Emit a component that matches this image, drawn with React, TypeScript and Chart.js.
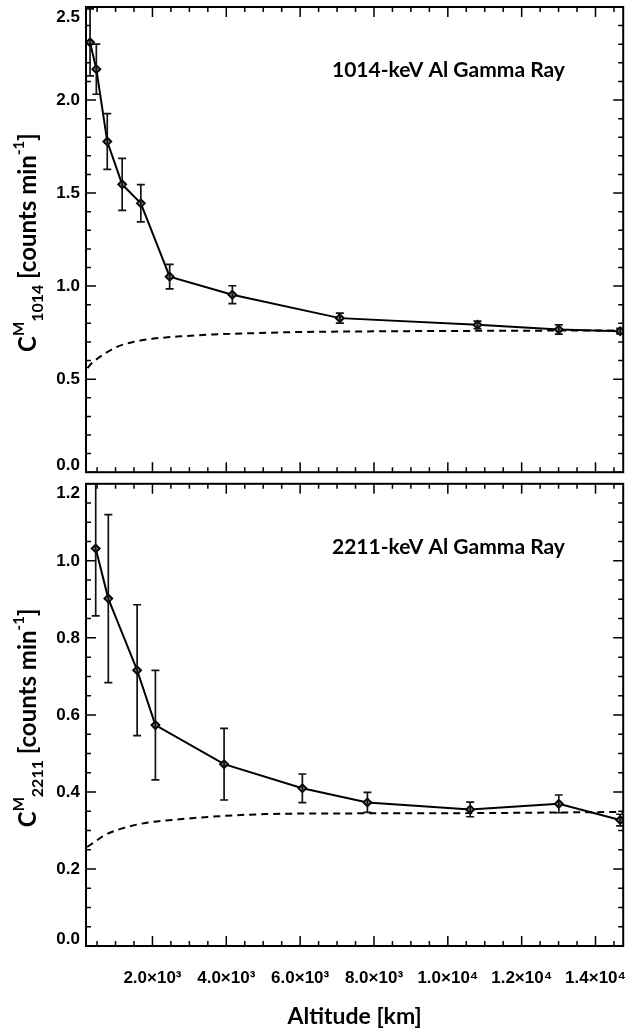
import React, { useEffect, useRef } from "react";
import { Chart, registerables } from "chart.js";
Chart.register(...registerables);

// ---- 1014 keV panel ----
const altitude1014 = [310, 480, 776, 1180, 1685, 2466, 4164, 7075, 10803, 13005, 14668];
const counts1014 = [2.31, 2.166, 1.777, 1.547, 1.445, 1.051, 0.954, 0.828, 0.792, 0.767, 0.758];
const error1014 = [0.18, 0.135, 0.15, 0.14, 0.1, 0.066, 0.048, 0.027, 0.02, 0.025, 0.015];
const bgAltitude1014 = [237, 380, 670, 1030, 1480, 2000, 2750, 3650, 4550, 5900, 8000, 11400, 14750];
const bg1014 = [0.56, 0.59, 0.632, 0.673, 0.7, 0.717, 0.73, 0.74, 0.746, 0.753, 0.757, 0.76, 0.762];

// ---- 2211 keV panel ----
const altitude2211 = [463, 804, 1585, 2080, 3940, 6060, 7822, 10606, 13005, 14668];
const counts2211 = [1.032, 0.902, 0.716, 0.5735, 0.472, 0.4095, 0.3727, 0.3546, 0.369, 0.327];
const error2211 = [0.175, 0.218, 0.17, 0.142, 0.093, 0.037, 0.026, 0.019, 0.023, 0.015];
const bgAltitude2211 = [230, 445, 714, 1208, 1838, 2736, 3814, 5073, 6690, 10606, 14750];
const bg2211 = [0.257, 0.271, 0.288, 0.306, 0.32, 0.329, 0.337, 0.3425, 0.344, 0.345, 0.348];

const xMin = 200;
const xMax = 14750;
const xTickValues = [2000, 4000, 6000, 8000, 10000, 12000, 14000];
const xMinorStep = 500;

const titles = ["1014-keV Al Gamma Ray", "2211-keV Al Gamma Ray"];
const subs = ["1014", "2211"];
const xTitle = "Altitude [km]";

const SUP: Record<number, string> = { 3: "\u00b3", 4: "\u2074" };
function fmtX(v: number): string {
  if (v <= 0) return "";
  const e = Math.floor(Math.log10(v) + 1e-9);
  const m = v / Math.pow(10, e);
  return m.toFixed(1) + "\u00d710" + (SUP[e] || "");
}

const TICK_FONT = '"Liberation Sans", Arial, sans-serif';
const TITLE_FONT = 'Lato, "Open Sans", sans-serif';

type Spec = {
  alt: number[];
  val: number[];
  err: number[];
  bgAlt: number[];
  bg: number[];
  yMin: number;
  yMax: number;
  yMajor: number;
  yMinor: number;
  title: string;
  sub: string;
  showX: boolean;
  height: number;
  padTop: number;
  padBottom: number;
};

function framePlugin(spec: Spec) {
  return {
    id: "frame",
    afterDatasetsDraw(chart: any) {
      const { ctx, chartArea: a, scales } = chart;
      const x = scales.x;
      const y = scales.y;
      ctx.save();
      ctx.beginPath();
      ctx.rect(a.left, a.top, a.right - a.left, a.bottom - a.top);
      ctx.clip();
      ctx.strokeStyle = "#111";
      ctx.lineWidth = 1.7;
      for (let i = 0; i < spec.alt.length; i++) {
        const px = x.getPixelForValue(spec.alt[i]);
        const p1 = y.getPixelForValue(spec.val[i] + spec.err[i]);
        const p2 = y.getPixelForValue(spec.val[i] - spec.err[i]);
        ctx.beginPath();
        ctx.moveTo(px, p1);
        ctx.lineTo(px, p2);
        ctx.moveTo(px - 4, p1);
        ctx.lineTo(px + 4, p1);
        ctx.moveTo(px - 4, p2);
        ctx.lineTo(px + 4, p2);
        ctx.stroke();
      }
      ctx.restore();
    },
    afterDraw(chart: any) {
      const { ctx, chartArea: a, scales } = chart;
      const x = scales.x;
      const y = scales.y;
      ctx.save();
      ctx.strokeStyle = "#000";
      ctx.lineWidth = 2;
      ctx.strokeRect(a.left, a.top, a.right - a.left, a.bottom - a.top);
      ctx.lineWidth = 1.5;
      // y ticks
      const n = Math.round((spec.yMax - spec.yMin) / spec.yMinor);
      for (let i = 0; i <= n; i++) {
        const v = spec.yMin + i * spec.yMinor;
        const r = v / spec.yMajor;
        const major = Math.abs(r - Math.round(r)) < 1e-6;
        const len = major ? 10 : 5;
        const py = y.getPixelForValue(v);
        ctx.beginPath();
        ctx.moveTo(a.left, py);
        ctx.lineTo(a.left + len, py);
        ctx.moveTo(a.right, py);
        ctx.lineTo(a.right - len, py);
        ctx.stroke();
      }
      // x ticks
      for (let v = xMinorStep; v <= xMax; v += xMinorStep) {
        if (v < xMin) continue;
        const major = xTickValues.includes(v);
        const len = major ? 10 : 5;
        const px = x.getPixelForValue(v);
        ctx.beginPath();
        ctx.moveTo(px, a.bottom);
        ctx.lineTo(px, a.bottom - len);
        ctx.moveTo(px, a.top);
        ctx.lineTo(px, a.top + len);
        ctx.stroke();
      }
      // y labels
      ctx.fillStyle = "#000";
      ctx.font = `bold 17px ${TICK_FONT}`;
      ctx.textAlign = "right";
      ctx.textBaseline = "middle";
      const m = Math.round((spec.yMax - spec.yMin) / spec.yMajor);
      for (let i = 0; i <= m; i++) {
        const v = spec.yMin + i * spec.yMajor;
        let py = y.getPixelForValue(v);
        if (i === 0) py -= 7;
        if (i === m) py += 10;
        ctx.fillText(v.toFixed(1), 80, py);
      }
      // annotation
      ctx.font = `bold 21px ${TITLE_FONT}`;
      ctx.textAlign = "left";
      ctx.fillText(spec.title, 332, a.top + 63);
      // y title (rotated with sub/superscripts)
      const pieces = [
        { t: "C", s: 24, dy: 0 },
        { t: "M", s: 15, dy: -12 },
        { t: spec.sub, s: 16, dy: 7 },
        { t: " [counts min", s: 24, dy: 0 },
        { t: "-1", s: 15, dy: -12 },
        { t: "]", s: 24, dy: 0 },
      ];
      let total = 0;
      for (const p of pieces) {
        ctx.font = `bold ${p.s}px ${TITLE_FONT}`;
        total += ctx.measureText(p.t).width;
      }
      const cy = (a.top + a.bottom) / 2 + 3;
      ctx.translate(36, cy);
      ctx.rotate(-Math.PI / 2);
      ctx.textAlign = "left";
      ctx.textBaseline = "alphabetic";
      let cx = -total / 2;
      for (const p of pieces) {
        ctx.font = `bold ${p.s}px ${TITLE_FONT}`;
        ctx.fillText(p.t, cx, p.dy);
        cx += ctx.measureText(p.t).width;
      }
      ctx.restore();
    },
  };
}

function makeChart(canvas: HTMLCanvasElement, spec: Spec) {
  return new Chart(canvas, {
    type: "scatter",
    data: {
      datasets: [
        {
          data: spec.bgAlt.map((a, i) => ({ x: a, y: spec.bg[i] })),
          showLine: true,
          borderColor: "#000",
          borderWidth: 2,
          borderDash: [7, 5],
          pointRadius: 0,
          cubicInterpolationMode: "monotone",
          order: 2,
        } as any,
        {
          data: spec.alt.map((a, i) => ({ x: a, y: spec.val[i] })),
          showLine: true,
          borderColor: "#000",
          borderWidth: 2,
          pointStyle: "rectRot",
          pointRadius: 4,
          pointBackgroundColor: "#777",
          pointBorderColor: "#000",
          pointBorderWidth: 1.8,
          order: 1,
        } as any,
      ],
    },
    options: {
      animation: false,
      responsive: false,
      devicePixelRatio: 1,
      events: [],
      layout: { padding: { top: spec.padTop, right: 2, bottom: spec.padBottom, left: 0 } },
      plugins: { legend: { display: false }, tooltip: { enabled: false } },
      scales: {
        x: {
          type: "linear",
          min: xMin,
          max: xMax,
          display: spec.showX,
          grid: { display: false },
          border: { display: false },
          afterBuildTicks: (s: any) => {
            s.ticks = xTickValues.map((v) => ({ value: v }));
          },
          ticks: {
            autoSkip: false,
            maxRotation: 0,
            padding: 14,
            color: "#000",
            font: { family: TICK_FONT, weight: "bold", size: 17 },
            callback: (v: any) => fmtX(Number(v)),
          },
          title: {
            display: true,
            text: xTitle,
            color: "#000",
            font: { family: TITLE_FONT, weight: "bold", size: 23 },
            padding: { top: 0, bottom: 4 },
          },
          afterFit: (s: any) => {
            s.height = spec.showX ? 88 : 0;
            s.paddingLeft = 0;
            s.paddingRight = 0;
          },
        },
        y: {
          type: "linear",
          min: spec.yMin,
          max: spec.yMax,
          grid: { display: false },
          border: { display: false },
          ticks: { display: false },
          afterFit: (s: any) => {
            s.width = 86;
            s.paddingTop = 0;
            s.paddingBottom = 0;
          },
        },
      },
    } as any,
    plugins: [framePlugin(spec) as any],
  });
}

const topSpec: Spec = {
  alt: altitude1014,
  val: counts1014,
  err: error1014,
  bgAlt: bgAltitude1014,
  bg: bg1014,
  yMin: 0,
  yMax: 2.5,
  yMajor: 0.5,
  yMinor: 0.1,
  title: titles[0],
  sub: subs[0],
  showX: false,
  height: 478,
  padTop: 7,
  padBottom: 4,
};

const bottomSpec: Spec = {
  alt: altitude2211,
  val: counts2211,
  err: error2211,
  bgAlt: bgAltitude2211,
  bg: bg2211,
  yMin: 0,
  yMax: 1.2,
  yMajor: 0.2,
  yMinor: 0.05,
  title: titles[1],
  sub: subs[1],
  showX: true,
  height: 556,
  padTop: 3,
  padBottom: 0,
};

function Panel({ spec, top }: { spec: Spec; top: number }) {
  const ref = useRef<HTMLCanvasElement | null>(null);
  useEffect(() => {
    if (!ref.current) return;
    const c = makeChart(ref.current, spec);
    return () => c.destroy();
  }, [spec]);
  return (
    <canvas
      ref={ref}
      width={629}
      height={spec.height}
      style={{ position: "absolute", left: 0, top, width: 629, height: spec.height }}
    />
  );
}

export default function App() {
  return (
    <div style={{ position: "absolute", left: 0, top: 0, width: 629, height: 1034, background: "#fff" }}>
      <Panel spec={topSpec} top={0} />
      <Panel spec={bottomSpec} top={478} />
    </div>
  );
}
